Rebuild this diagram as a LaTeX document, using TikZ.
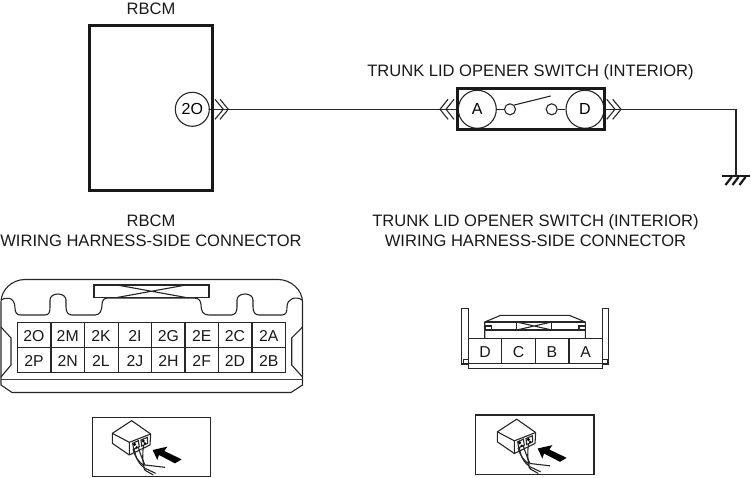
\documentclass[tikz,border=0pt]{standalone}
\usepackage{fontspec}
\setmainfont{Liberation Sans}
\newcommand{\iconart}[1]{%
\begin{scope}[shift={#1},x=0.3333pt,y=-0.3333pt]
\draw[thn,fill=white,line join=round] (82,70) -- (140,32) -- (197,72) -- (195,105) -- (133,135) -- (82,100) -- cycle;
\draw[thn] (82,70) -- (133,97) -- (197,72) (133,97) -- (133,135);
\draw[thn] (143,100) -- (160,92) -- (163,110) -- (146,118) -- cycle;
\draw[thn] (168,90) -- (187,82) -- (188,100) -- (170,108) -- cycle;
\fill (149,103) circle (5); \fill (155,112) circle (4); \fill (175,93) circle (5); \fill (180,100) circle (4);
\draw[thn] (148,115) .. controls (150,145) and (165,165) .. (180,175) -- (212,190);
\draw[thn] (176,105) .. controls (172,130) and (172,150) .. (178,178) -- (182,182) -- (205,195);
\draw[thn] (160,112) .. controls (165,130) and (175,155) .. (180,165) -- (240,172);
\draw[thn] (144,118) .. controls (150,140) and (160,155) .. (178,168);
\fill (203,120) -- (247,110) -- (238,123) -- (290,148) -- (270,160) -- (222,135) -- (217,150) -- cycle;
\end{scope}}
\tikzset{
  thn/.style={line width=1.1pt,draw=black!85},
  thk/.style={line width=3pt,draw=black!90},
  lbl/.style={inner sep=0pt,anchor=base,font=\fontsize{16.55}{18}\selectfont,text=black!90},
  circ/.style={circle,draw=black!85,line width=1.1pt,minimum size=#1,inner sep=0pt,font=\fontsize{16}{18}\selectfont},
  cell/.style={inner sep=0pt,anchor=base,font=\fontsize{15.8}{18}\selectfont,text=black!90},
  chev/.style={line width=1.1pt,draw=black!85}
}
\begin{document}
\begin{tikzpicture}[x=1pt,y=-1pt]
\useasboundingbox (0,0) rectangle (751,478);
% titles
\node[lbl] (t1) at (151,15) {RBCM};
\node[lbl] (t2) at (530.5,76.5) {TRUNK LID OPENER SWITCH (INTERIOR)};
\node[lbl] (t3) at (151,226.5) {RBCM};
\node[lbl] (t4) at (151,246) {WIRING HARNESS-SIDE CONNECTOR};
\node[lbl] (t5) at (535.5,226.5) {TRUNK LID OPENER SWITCH (INTERIOR)};
\node[lbl] (t6) at (535.5,246) {WIRING HARNESS-SIDE CONNECTOR};
% schematic
\node[circ=34pt] (c2o) at (192.3,109.3) {2O};
\node[circ=38pt] (swa) at (477.3,109.3) {A};
\node[circ=38pt] (swd) at (585,109.3) {D};
\node[circ=11pt] (s1) at (510,109.3) {};
\node[circ=11pt] (s2) at (551.7,109.3) {};
\coordinate (blade) at (550.7,96);
\coordinate (corner) at (736,109.3);
\coordinate (gnd) at (736,176.5);
\draw[thn] (c2o.east) -- (swa.west);
\draw[thn] (swa.east) -- (s1.west);
\draw[thn] (s2.east) -- (swd.west);
\draw[thn] (s1.north east) -- (blade);
\draw[thn] (swd.east) -- (corner) -- (gnd);
\draw[thk] (89.5,26) rectangle (212,191);
\draw[thk] (457.7,88.7) rectangle (604.3,130);
% chevrons
\draw[chev] (215,99.3) -- (223.3,109.3) -- (215,119.3) (220,99.3) -- (228.3,109.3) -- (220,119.3);
\draw[chev] (448,99.3) -- (440,109.3) -- (448,119.3) (454,99.3) -- (446,109.3) -- (454,119.3);
\draw[chev] (606.7,99.3) -- (615,109.3) -- (606.7,119.3) (612.7,99.3) -- (621,109.3) -- (612.7,119.3);
% ground
\draw[line width=2pt,black!90] (721.7,176.5) -- (750,176.5);
\draw[line width=2.2pt,black!90] (731.7,177) -- (725.5,185) (738.5,177) -- (732.5,185) (745.5,177) -- (739.5,185);
% connector RBCM
\draw[thn] (1,302) .. controls (1,290) and (12,279.5) .. (25,279.5) -- (278,279.5) .. controls (291,279.5) and (302.5,290) .. (302.5,302) -- (302.5,385) -- (291,392.5) -- (12,392.5) -- (1,385) -- cycle;
\draw[line width=1.5pt,black!75] (1,379.5) -- (302.5,379.5);
\draw[thn] (1,300) .. controls (5,297) and (15,296) .. (15,308) .. controls (15,313) and (17,315) .. (21,315) -- (45,315) .. controls (49,315) and (50,312) .. (50,307) -- (50,300) .. controls (50,292) and (66,292) .. (66,300) -- (66,307) .. controls (66,312) and (68,315) .. (72,315) -- (95,315) .. controls (100,315) and (102,310) .. (102,305) .. controls (102,300) and (104,298) .. (108,298) -- (194,298) .. controls (199,298) and (201,301) .. (201,305) .. controls (201,311) and (203,315) .. (209,315) -- (231,315) .. controls (235,315) and (237,312) .. (237,307) -- (237,300) .. controls (237,292) and (253,292) .. (253,300) -- (253,307) .. controls (253,312) and (255,315) .. (259,315) -- (282,315) .. controls (286,315) and (287,312) .. (287,307) .. controls (287,298) and (296,296) .. (302.5,300);
\draw[thn,fill=white] (94,285) rectangle (209,297.5);
\draw[thn] (117,285) -- (186,297.5) (117,297.5) -- (186,285);
\draw[thn] (1,327) -- (11,338) -- (11,365) -- (1,377);
\draw[thn] (302.5,327) -- (291.7,338) -- (291.7,365) -- (302.5,377);
\draw[thn] (17.3,322.3) rectangle (285.3,372.7);
\draw[thn] (17.3,347.7) -- (285.3,347.7);
\foreach \x/\ta/\tb/\n in {17.3/2O/2P/a,51/2M/2N/b,84.3/2K/2L/c,118.3/2I/2J/d,151.7/2G/2H/e,185/2E/2F/f,218.3/2C/2D/g,252/2A/2B/h}{
  \draw[thn] (\x,322.3) -- (\x,372.7);
  \node[cell] (u\n) at (\x+16.7,341) {\ta};
  \node[cell] (l\n) at (\x+16.7,366) {\tb};
}
% connector switch
\draw[thn] (461.7,308.3) rectangle (468.3,364);
\draw[thn] (602.3,308.3) rectangle (608.7,364);
\draw[thn] (463.3,359.3) -- (468.3,359.3) (463.3,359.3) -- (463.3,364);
\draw[thn] (602.3,359.3) -- (607.3,359.3) -- (607.3,364);
\draw[thn] (468.3,338.3) rectangle (602.3,363.3);
\draw[thn] (468.3,363.3) -- (468.3,368.3) -- (602.3,368.3) -- (602.3,363.3);
\foreach \x in {501.7,535.3,569}{\draw[thn] (\x,338.3) -- (\x,363.3);}
\node[cell] (bd) at (485,357) {D};
\node[cell] (bc) at (518.5,357) {C};
\node[cell] (bb) at (552,357) {B};
\node[cell] (ba) at (585.7,357) {A};
\draw[thn] (484.7,338.3) -- (484.7,322) -- (500.7,315.3) -- (569.3,315.3) -- (585.3,322) -- (585.3,338.3);
\draw[thn] (484.7,322) -- (585.3,322) (484.7,330) -- (585.3,330);
\draw[thn] (485,326) rectangle (491.7,330) (579,326) rectangle (585.3,330);
\draw[thn] (516.7,322) rectangle (551.7,330);
\draw[thn] (516.7,322) -- (551.7,330) (516.7,330) -- (551.7,322);
% icons
\draw[thn] (92.3,417.3) rectangle (210.7,476.7);
\draw[thn] (475.7,415) rectangle (594,474.3);
\iconart{(85,410)}
\iconart{(470,408.5)}
\end{tikzpicture}
\end{document}
